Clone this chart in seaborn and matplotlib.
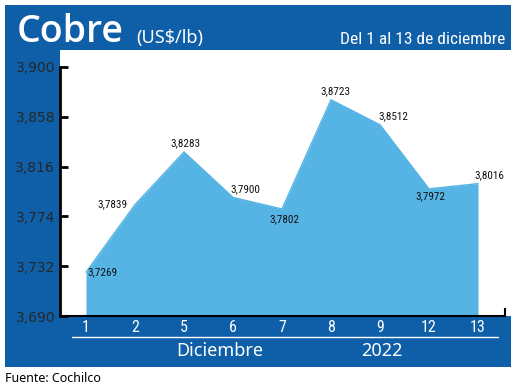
import matplotlib
matplotlib.use("Agg")

import matplotlib.pyplot as plt
import matplotlib.patches as mpatches
import pandas as pd
import seaborn as sns


# --------------------------------------------------
# Data
# --------------------------------------------------

dias = ["1", "2", "5", "6", "7", "8", "9", "12", "13"]

precios = [3.7269, 3.7839, 3.8283, 3.7900, 3.7802, 3.8723, 3.8512, 3.7972, 3.8016]

etiquetas = ["3,7269", "3,7839", "3,8283", "3,7900", "3,7802",
             "3,8723", "3,8512", "3,7972", "3,8016"]

y_ticks = [3.690, 3.732, 3.774, 3.816, 3.858, 3.900]

y_tick_labels = ["3,690", "3,732", "3,774", "3,816", "3,858", "3,900"]

# label offsets in points (dx, dy)
offsets = [(12, 0), (-16, 0), (1, 6.5), (9, 6), (1.5, -7),
           (3.5, 6.5), (10, 6), (1, -5), (8, 6)]

df = pd.DataFrame({"dia": dias, "precio": precios})
df["pos"] = range(len(df))


# --------------------------------------------------
# Style
# --------------------------------------------------

sns.set_style("white")

AZUL = "#0f5fa8"
CELESTE = "#55b4e3"

COND = ["Roboto Condensed", "DejaVu Sans"]

W, H = 520, 388

fig = plt.figure(figsize=(5.2, 3.88), dpi=100)
fig.patch.set_facecolor("white")


def fig_rect(x0, y0, x1, y1, color):
    # pixel box (top-left origin) to figure fraction
    fig.patches.append(
        mpatches.Rectangle(
            (x0 / W, 1 - y1 / H),
            (x1 - x0) / W,
            (y1 - y0) / H,
            transform=fig.transFigure,
            facecolor=color,
            edgecolor="none",
            zorder=-5
        )
    )


fig_rect(5, 5, 511, 367, AZUL)


# --------------------------------------------------
# Axes
# --------------------------------------------------

ax_left, ax_right = 60, 511
ax_top, ax_bottom = 50, 316

ax = fig.add_axes([
    ax_left / W,
    1 - ax_bottom / H,
    (ax_right - ax_left) / W,
    (ax_bottom - ax_top) / H
])

ax.set_facecolor("white")

step = 49.0
x0_px = 86.0
ax.set_xlim((ax_left - x0_px) / step, (ax_right - x0_px) / step)

px_per_unit = 250 / 0.21
ax.set_ylim(3.690 - (ax_bottom - 317) / px_per_unit,
            3.690 + (317 - ax_top) / px_per_unit)

ax.fill_between(df["pos"], df["precio"], 3.60, color=CELESTE, linewidth=0)

sns.lineplot(
    data=df,
    x="pos",
    y="precio",
    color=CELESTE,
    linewidth=1,
    ax=ax
)

for i, (xv, yv) in enumerate(zip(df["pos"], df["precio"])):
    ax.annotate(
        etiquetas[i],
        (xv, yv),
        xytext=offsets[i],
        textcoords="offset points",
        ha="center",
        va="center",
        fontsize=8,
        family=COND,
        color="#111111"
    )

ax.set_yticks(y_ticks)
ax.set_yticklabels(y_tick_labels, family=COND, fontsize=12, color="white")

ax.set_xticks(df["pos"])
ax.set_xticklabels(dias, family=COND, fontsize=11.5, color="white")

ax.tick_params(axis="y", direction="in", length=6, width=2,
               color="black", pad=3.5, left=True)
ax.tick_params(axis="x", length=0, pad=3)

ax.set_xlabel("")
ax.set_ylabel("")

ax.spines["top"].set_visible(False)

ax.spines["left"].set_color("black")
ax.spines["left"].set_linewidth(2)
ax.spines["left"].set_bounds(3.690, 3.900)
ax.spines["bottom"].set_color("black")
ax.spines["bottom"].set_linewidth(1.5)
x_end = (505 - x0_px) / step
ax.spines["bottom"].set_bounds(ax.get_xlim()[0], x_end)

# little end mark at the right of the base line
ax.spines["right"].set_position(("data", x_end))
ax.spines["right"].set_color("black")
ax.spines["right"].set_linewidth(1.5)
ax.spines["right"].set_bounds(3.690, 3.690 + 7 / px_per_unit)


# --------------------------------------------------
# Texts
# --------------------------------------------------

fig.text(17 / W, 1 - 42 / H, "Cobre", family="Open Sans", fontweight="semibold",
         fontsize=27, color="white", va="baseline", ha="left")

fig.text(136 / W, 1 - 38 / H, "(US$/lb)", family="Noto Sans",
         fontsize=13, color="white", va="center", ha="left")

fig.text(505 / W, 1 - 39 / H, "Del 1 al 13 de diciembre",
         family=COND, fontsize=12.5, color="white", va="center", ha="right")

fig.lines.append(
    plt.Line2D([72 / W, 498 / W], [1 - 337 / H, 1 - 337 / H],
               transform=fig.transFigure, color="white", linewidth=1)
)

fig.text(220 / W, 1 - 351 / H, "Diciembre", family="Noto Sans",
         fontsize=13, color="white", va="center", ha="center")

fig.text(382 / W, 1 - 351 / H, "2022", family="Noto Sans",
         fontsize=13, color="white", va="center", ha="center")

fig.text(5 / W, 1 - 378 / H, "Fuente: Cochilco", family="Noto Sans",
         fontsize=9, color="black", va="center", ha="left")

plt.savefig("out.png", dpi=100)
plt.close()
